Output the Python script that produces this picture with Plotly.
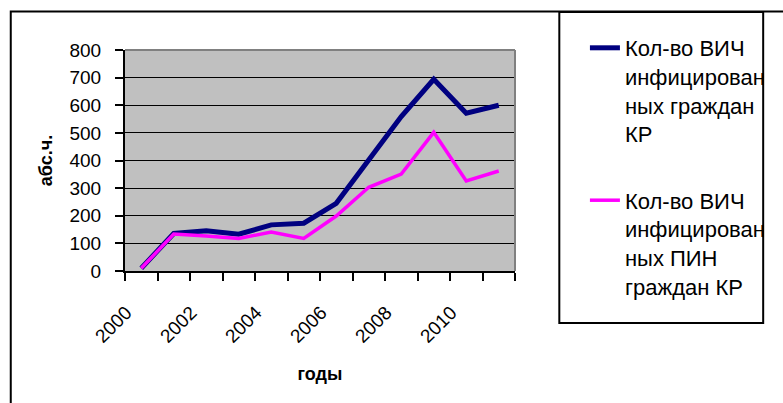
import plotly.graph_objects as go

years = list(range(2000, 2012))
hiv_total = [10, 136, 146, 133, 167, 173, 245, 402, 559, 694, 571, 600]
hiv_pin = [10, 134, 127, 118, 141, 118, 199, 303, 351, 502, 326, 362]
tick_years = [2000, 2002, 2004, 2006, 2008, 2010]
tick_labels = [str(y) for y in tick_years]
name_total = "Кол-во ВИЧ<br>инфицирован<br>ных граждан<br>КР"
name_pin = "Кол-во ВИЧ<br>инфицирован<br>ных ПИН<br>граждан КР"

FONT = "Liberation Sans, Arial, sans-serif"

fig = go.Figure()
fig.add_trace(go.Scatter(x=years, y=hiv_total, mode="lines", name=name_total,
                         line=dict(color="#000080", width=5), legendgroup="a"))
fig.add_trace(go.Scatter(x=years, y=hiv_pin, mode="lines", name=name_pin,
                         line=dict(color="#FF00FF", width=3.5), legendgroup="b"))

L, R, T, B = 125, 262, 50, 132
W, H = 783, 403
pw, ph = W - L - R, H - T - B

def px(x):
    return (x - L) / pw

def py(y):
    return (H - B - y) / ph

fig.update_layout(
    width=W, height=H, autosize=False,
    margin=dict(l=L, r=R, t=T, b=B, pad=0),
    paper_bgcolor="white", plot_bgcolor="#C0C0C0",
    font=dict(family=FONT, color="black", size=19),
    showlegend=True,
    legend=dict(x=px(592), y=py(27), xanchor="left", yanchor="top",
                font=dict(size=22, family=FONT), valign="top",
                tracegroupgap=35, bgcolor="rgba(0,0,0,0)", borderwidth=0,
                itemwidth=30, maxheight=1.0),
    xaxis=dict(range=[1999.5, 2011.5], tickvals=tick_years, ticktext=tick_labels,
               tickangle=-45, ticks="outside", ticklen=0, showgrid=False,
               showline=True, linecolor="black", linewidth=2, zeroline=False,
               tickfont=dict(size=19), ticklabelstandoff=21, ticklabelshift=-15,
               minor=dict(tickvals=[y - 0.5 for y in years] + [2011.5], ticks="outside",
                          ticklen=8, tickcolor="black", tickwidth=2, showgrid=False),
               title=dict(text="<b>годы</b>", font=dict(size=18), standoff=22)),
    yaxis=dict(range=[0, 800], dtick=100, ticks="outside", ticklen=8, tickwidth=2,
               tickcolor="black", showgrid=True, gridcolor="black", gridwidth=1.3,
               showline=True, linecolor="black", linewidth=2, zeroline=False,
               ticklabelstandoff=10, tickfont=dict(size=19),
               title=dict(text="<b>абс.ч.</b>", font=dict(size=18), standoff=12)),
    shapes=[
        dict(type="line", xref="paper", yref="paper", x0=0, x1=1, y0=1, y1=1,
             line=dict(color="#808080", width=2), layer="above"),
        dict(type="line", xref="paper", yref="paper", x0=1, x1=1, y0=0, y1=1,
             line=dict(color="#808080", width=2), layer="above"),
        dict(type="rect", xref="paper", yref="paper", x0=px(9), x1=px(800),
             y0=py(420), y1=py(11.5), line=dict(color="black", width=2)),
        dict(type="rect", xref="paper", yref="paper", x0=px(566), x1=px(773),
             y0=py(323), y1=py(12), line=dict(color="black", width=2),
             fillcolor="white", layer="below"),
    ],
)

fig.write_html("out.html", config={"displayModeBar": False},
               post_script="document.body.style.margin='0';document.body.style.overflow='hidden';")
